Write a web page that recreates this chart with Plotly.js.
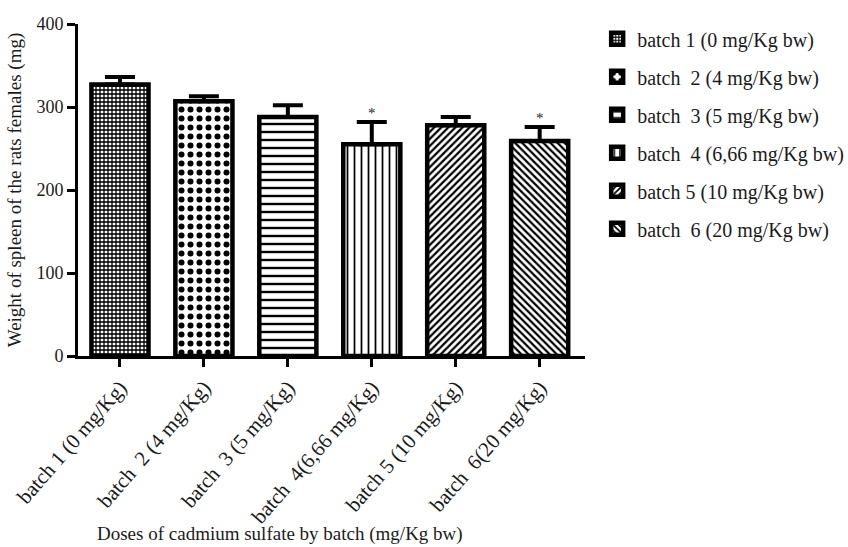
<!DOCTYPE html>
<html>
<head>
<meta charset="utf-8">
<script src="https://cdn.plot.ly/plotly-3.0.1.min.js"></script>
<style>html,body{margin:0;padding:0;background:#fff;}#chart{width:848px;height:547px;}</style>
</head>
<body>
<div id="chart"></div>
<script>
const categories = ["batch 1 (0 mg/Kg)", "batch  2 (4 mg/Kg)", "batch  3 (5 mg/Kg)", "batch  4(6,66 mg/Kg)", "batch 5 (10 mg/Kg)", "batch  6(20 mg/Kg)"];
const legendNames = ["batch 1 (0 mg/Kg bw)", "batch  2 (4 mg/Kg bw)", "batch  3 (5 mg/Kg bw)", "batch  4 (6,66 mg/Kg bw)", "batch 5 (10 mg/Kg bw)", "batch  6 (20 mg/Kg bw)"];
const means = [327, 307, 288, 255, 278, 259];
const errUp = [9, 6, 14, 27, 10, 17];
const significance = ["", "", "", "*", "", "*"];
const xTitle = "Doses of cadmium sulfate by batch (mg/Kg bw)";
const yTitle = "Weight of spleen of the rats females (mg)";

const patternShapes = ["+", ".", "-", "|", "/", "\\"];
const patternSizes = [4, 9, 8, 7, 5, 5];
const patternSolidity = [0.55, 0.35, 0.3, 0.25, 0.45, 0.45];

const serif = "Liberation Serif, Times New Roman, serif";
const txt = "#1b1b1b";

const traces = categories.map((c, i) => ({
  type: "bar",
  x: [c],
  y: [means[i]],
  name: legendNames[i],
  legendgroup: "g" + i,
  width: 0.68,
  marker: {
    color: "white",
    line: {color: "black", width: 4.5},
    pattern: {shape: patternShapes[i], size: patternSizes[i], solidity: patternSolidity[i], fgcolor: "black", bgcolor: "white", fillmode: "replace"}
  },
  error_y: {type: "data", symmetric: false, array: [errUp[i]], arrayminus: [0], color: "black", thickness: 4, width: 15}
}));

const annotations = [];
categories.forEach((c, i) => {
  if (significance[i]) {
    annotations.push({x: c, y: means[i] + errUp[i], text: significance[i], showarrow: false, yshift: 9, font: {family: serif, size: 15, color: txt}});
  }
});
annotations.push({xref: "paper", yref: "paper", x: 0.398, y: -0.535, xanchor: "center", yanchor: "middle", showarrow: false, text: xTitle, font: {family: serif, size: 19, color: txt}});

const layout = {
  width: 848, height: 547,
  margin: {l: 78, r: 263, t: 24, b: 191, autoexpand: false},
  paper_bgcolor: "white", plot_bgcolor: "white",
  barmode: "overlay",
  showlegend: true,
  font: {family: serif, color: txt},
  xaxis: {
    type: "category",
    range: [-0.5, 5.54],
    showline: true, linecolor: "black", linewidth: 3,
    ticks: "outside", ticklen: 8, tickwidth: 3, tickcolor: "black",
    tickangle: -49,
    tickfont: {family: serif, size: 21, color: txt},
    showgrid: false, zeroline: false, automargin: false
  },
  yaxis: {
    range: [0, 400], dtick: 100,
    showline: true, linecolor: "black", linewidth: 3,
    ticks: "outside", ticklen: 8, tickwidth: 3, tickcolor: "black",
    tickfont: {family: serif, size: 18, color: txt},
    showgrid: false, zeroline: false, automargin: false,
    title: {text: yTitle, font: {family: serif, size: 19, color: txt}, standoff: 10}
  },
  legend: {
    x: 1.024, xanchor: "left", y: 1.014, yanchor: "top",
    traceorder: "grouped", tracegroupgap: 9,
    font: {family: serif, size: 20, color: txt},
    bgcolor: "rgba(0,0,0,0)"
  },
  annotations: annotations
};

Plotly.newPlot("chart", traces, layout, {displayModeBar: false, staticPlot: true});
</script>
</body>
</html>
